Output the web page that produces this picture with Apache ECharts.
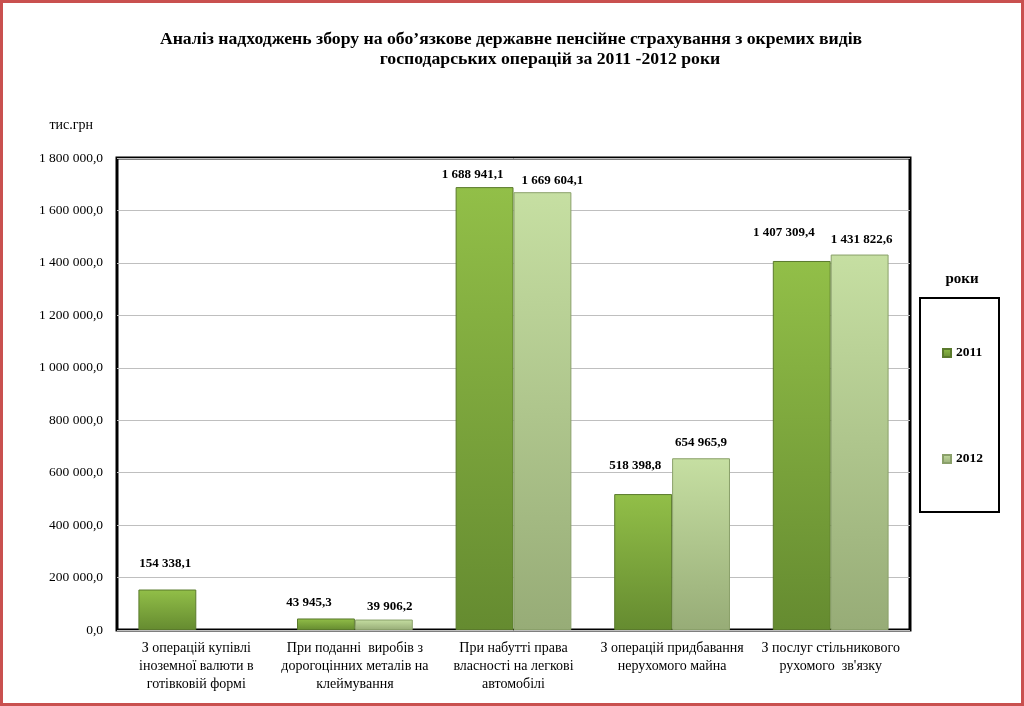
<!DOCTYPE html>
<html>
<head>
<meta charset="utf-8">
<script src="https://cdn.jsdelivr.net/npm/echarts@6/dist/echarts.min.js"></script>
<style>html,body{margin:0;padding:0;background:#fff}#c{width:1024px;height:706px}</style>
</head>
<body>
<div id="c"></div>
<script>
const categories = [
  "З операцій купівлі\nіноземної валюти в\nготівковій формі",
  "При поданні  виробів з\nдорогоцінних металів на\nклеймування",
  "При набутті права\nвласності на легкові\nавтомобілі",
  "З операцій придбавання\nнерухомого майна",
  "З послуг стільникового\nрухомого  зв'язку"
];
const seriesNames = ["2011", "2012"];
const values2011 = [154338.1, 43945.3, 1688941.1, 518398.8, 1407309.4];
const values2012 = [null, 39906.2, 1669604.1, 654965.9, 1431822.6];
const yTicks = { min: 0, max: 1800000, interval: 200000 };

// label placement tweaks (style only): [dx, distance above bar]
const labelShift2011 = [[-2, 19], [-17, 9], [-12, 6], [-8, 22], [-18, 22]];
const labelShift2012 = [[0, 8], [6, 6], [10, 5], [0, 9], [2, 8]];

function fmt(v) {
  const parts = v.toFixed(1).split('.');
  return parts[0].replace(/\B(?=(\d{3})+(?!\d))/g, ' ') + ',' + parts[1];
}

const serif = "'Liberation Serif', 'DejaVu Serif', serif";

function grad(top, bottom) {
  return new echarts.graphic.LinearGradient(0, 0, 0, 1, [
    { offset: 0, color: top }, { offset: 1, color: bottom }
  ]);
}

function mkData(vals, shifts) {
  return vals.map((v, i) => v == null ? null : {
    value: v,
    label: { distance: shifts[i][1], offset: [shifts[i][0], 0] }
  });
}

const chart = echarts.init(document.getElementById('c'));
chart.setOption({
  animation: false,
  backgroundColor: '#ffffff',
  title: [
    { text: 'Аналіз надходжень збору на обо’язкове державне пенсійне страхування з окремих видів',
      left: 506, top: 25, textAlign: 'center',
      textStyle: { fontFamily: serif, fontWeight: 'bold', fontSize: 17.7, color: '#000' } },
    { text: 'господарських операцій за 2011 -2012 роки',
      left: 545, top: 45, textAlign: 'center',
      textStyle: { fontFamily: serif, fontWeight: 'bold', fontSize: 17.7, color: '#000' } },
    { text: 'роки', left: 957, top: 267, textAlign: 'center',
      textStyle: { fontFamily: serif, fontWeight: 'bold', fontSize: 15, color: '#000' } }
  ],
  legend: {
    orient: 'vertical',
    left: 920, top: 298,
    data: seriesNames,
    itemWidth: 8, itemHeight: 8, itemGap: 92,
    icon: 'rect',
    padding: [48, 16, 46, 22],
    borderColor: '#000', borderWidth: 2,
    textStyle: { fontFamily: serif, fontWeight: 'bold', fontSize: 13.5, color: '#000' }
  },
  grid: { left: 117, right: 114, top: 158, bottom: 76, show: true, borderColor: '#000', borderWidth: 3, backgroundColor: 'transparent' },
  xAxis: {
    type: 'category', data: categories,
    axisLine: { show: false }, axisTick: { show: false },
    axisLabel: { fontFamily: serif, fontSize: 14, color: '#000', lineHeight: 18, margin: 9, interval: 0 }
  },
  yAxis: {
    type: 'value', min: yTicks.min, max: yTicks.max, interval: yTicks.interval,
    name: 'тис.грн', nameGap: 26,
    nameTextStyle: { fontFamily: serif, fontSize: 14, color: '#000', align: 'right', padding: [0, 24, 0, 0] },
    axisLine: { show: false }, axisTick: { show: false },
    splitLine: { lineStyle: { color: '#bfbfbf', width: 1 } },
    axisLabel: { fontFamily: serif, fontSize: 13.5, color: '#000', margin: 14, formatter: v => fmt(v) }
  },
  series: [
    { name: seriesNames[0], type: 'bar', data: mkData(values2011, labelShift2011),
      barGap: '0%', barCategoryGap: '27%',
      itemStyle: { color: grad('#92bf48', '#658b30'), borderColor: '#5a7a2c', borderWidth: 1 },
      label: { show: true, position: 'top', fontFamily: serif, fontWeight: 'bold', fontSize: 13, color: '#000', formatter: p => fmt(p.value) } },
    { name: seriesNames[1], type: 'bar', data: mkData(values2012, labelShift2012),
      barGap: '0%', barCategoryGap: '27%',
      itemStyle: { color: grad('#c6dfa2', '#97ac77'), borderColor: '#8aa06a', borderWidth: 1 },
      label: { show: true, position: 'top', fontFamily: serif, fontWeight: 'bold', fontSize: 13, color: '#000', formatter: p => fmt(p.value) } }
  ],
  graphic: [
    { type: 'rect', shape: { x: 1.5, y: 1.5, width: 1021, height: 703 }, style: { fill: 'none', stroke: '#c9504f', lineWidth: 3 }, silent: true }
  ]
});
</script>
</body>
</html>
